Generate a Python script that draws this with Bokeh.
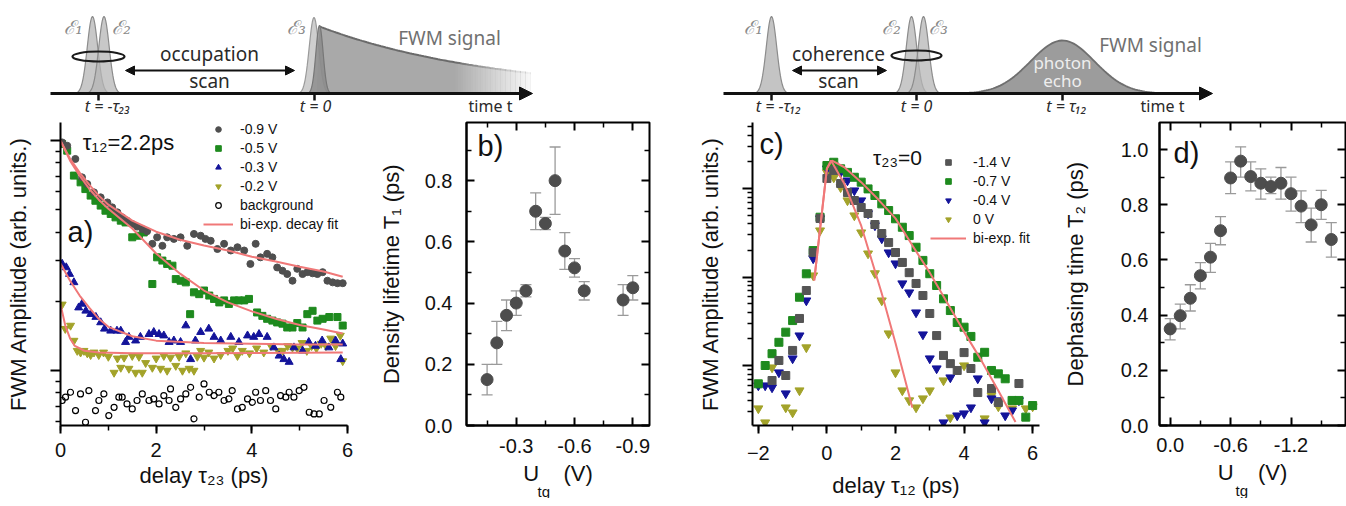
import numpy as np
from bokeh.plotting import figure
from bokeh.layouts import column, row
from bokeh.models import (Range1d, FixedTicker, SingleIntervalTicker, Legend, LegendItem, Label, Title,
                          Whisker, TeeHead, ColumnDataSource, Arrow, NormalHead,
                          NumeralTickFormatter, CustomJSTickFormatter, LinearAxis)
from bokeh.core.properties import value
from bokeh.embed import file_html
from bokeh.resources import INLINE

FONT = "Liberation Sans"
SFONT = "Noto Sans"

# ---------------- panel a data: FWM amplitude vs delay tau23 ----------------
a_grey_x = [0.035,0.14,0.31,0.45,0.56,0.70,0.84,0.98,1.08,1.19,1.29,1.39,1.50,1.60,1.71,1.81,1.92,2.02,2.13,2.23,
            2.37,2.51,2.65,2.79,2.93,3.03,3.14,3.28,3.42,3.56,3.70,3.84,3.97,4.08,4.18,4.32,4.43,4.53,4.64,4.74,
            4.85,4.95,5.06,5.16,5.27,5.37,5.48,5.58,5.69,5.79,5.90]
a_grey_y = [0.983,0.951,0.833,0.693,0.648,0.596,0.567,0.539,0.513,0.488,0.464,0.449,0.434,0.423,0.413,0.404,0.356,
            0.380,0.349,0.380,0.374,0.380,0.349,0.393,0.386,0.374,0.367,0.338,0.356,0.333,0.344,0.333,0.291,0.356,
            0.311,0.322,0.311,0.281,0.272,0.263,0.246,0.277,0.263,0.268,0.265,0.263,0.268,0.246,0.242,0.240,0.240]
a_green_x = [0.035,0.14,0.28,0.42,0.52,0.63,0.73,0.84,0.94,1.05,1.15,1.26,1.36,1.50,1.64,1.74,1.92,2.02,2.13,2.23,
             2.34,2.41,2.51,2.62,2.71,2.79,2.90,3.00,3.11,3.21,3.32,3.42,3.52,3.63,3.73,3.84,3.94,4.11,4.22,4.32,
             4.43,4.53,4.64,4.74,4.85,4.95,5.06,5.16,5.27,5.37,5.48,5.62,5.79,5.90]
a_green_y = [0.967,0.905,0.705,0.659,0.616,0.577,0.548,0.522,0.496,0.480,0.464,0.449,0.441,0.380,0.386,0.399,0.238,
             0.311,0.301,0.291,0.286,0.250,0.246,0.242,0.176,0.219,0.215,0.223,0.212,0.205,0.198,0.202,0.195,0.202,
             0.202,0.202,0.205,0.179,0.173,0.168,0.165,0.162,0.160,0.154,0.154,0.161,0.154,0.176,0.182,0.165,0.168,
             0.171,0.171,0.157]
a_blue_x = [0.035,0.12,0.19,0.28,0.38,0.45,0.53,0.63,0.74,0.84,0.92,1.05,1.18,1.26,1.36,1.43,1.57,1.67,1.85,1.95,
            2.06,2.16,2.27,2.37,2.51,2.62,2.72,2.82,2.93,3.10,3.21,3.35,3.56,3.73,3.91,4.04,4.15,4.32,4.46,4.57,
            4.67,4.78,4.88,5.06,5.19,5.33,5.47,5.61,5.75,5.86,5.90]
a_blue_y = [0.291,0.281,0.263,0.242,0.188,0.195,0.182,0.176,0.171,0.162,0.152,0.149,0.149,0.149,0.133,0.140,0.135,
            0.140,0.144,0.147,0.144,0.142,0.133,0.135,0.133,0.157,0.112,0.135,0.147,0.152,0.140,0.135,0.140,0.133,
            0.142,0.140,0.144,0.140,0.126,0.116,0.112,0.109,0.126,0.122,0.133,0.128,0.135,0.126,0.135,0.112,0.131]
a_olive_x = [0.035,0.10,0.21,0.28,0.35,0.42,0.49,0.56,0.63,0.70,0.80,0.90,1.00,1.12,1.19,1.26,1.33,1.43,1.50,1.57,
             1.64,1.71,1.78,1.92,2.00,2.09,2.16,2.23,2.30,2.41,2.48,2.55,2.62,2.69,2.79,2.86,2.93,3.00,3.10,3.21,
             3.35,3.50,3.60,3.70,3.80,3.95,4.10,4.25,4.40,4.55,4.65,4.75,4.85,4.95,5.05,5.15,5.25,5.35,5.45,5.55,
             5.65,5.75,5.85,5.90]
a_olive_y = [0.194,0.152,0.157,0.135,0.122,0.120,0.122,0.119,0.117,0.120,0.117,0.120,0.115,0.098,0.113,0.103,0.114,
             0.102,0.116,0.098,0.115,0.098,0.108,0.103,0.113,0.102,0.116,0.100,0.114,0.105,0.115,0.100,0.119,0.102,
             0.100,0.115,0.122,0.114,0.120,0.113,0.117,0.122,0.125,0.116,0.122,0.119,0.125,0.120,0.128,0.122,0.122,
             0.128,0.126,0.125,0.132,0.122,0.128,0.125,0.131,0.128,0.138,0.128,0.142,0.110]
a_bg_x = [0.035,0.105,0.209,0.314,0.418,0.523,0.593,0.732,0.802,0.907,1.01,1.12,1.22,1.29,1.39,1.50,1.60,1.71,1.85,
          1.95,2.06,2.16,2.27,2.30,2.41,2.51,2.62,2.72,2.79,2.90,3.00,3.11,3.21,3.31,3.42,3.52,3.59,3.70,3.80,3.91,
          4.01,4.08,4.18,4.29,4.39,4.50,4.60,4.71,4.78,4.88,4.99,5.09,5.20,5.30,5.41,5.51,5.65,5.79,5.86]
a_bg_y = [0.0741,0.0766,0.0805,0.0670,0.0792,0.0596,0.0818,0.0670,0.0741,0.0792,0.0637,0.0692,0.0766,0.0766,0.0716,
          0.0681,0.0741,0.0792,0.0741,0.0753,0.0716,0.0779,0.0741,0.0832,0.0692,0.0753,0.0792,0.0846,0.0617,0.0766,
          0.0875,0.0805,0.0779,0.0805,0.0741,0.0753,0.0818,0.0681,0.0692,0.0753,0.0728,0.0805,0.0741,0.0818,0.0741,
          0.0681,0.0779,0.0766,0.0805,0.0766,0.0818,0.0846,0.0659,0.0648,0.0648,0.0741,0.0692,0.0805,0.0766]
a_fit_x = [0.0,0.2,0.4,0.6,0.8,1.0,1.5,2.0,2.5,3.0,3.5,4.0,4.5,5.0,5.5,5.9]
a_fit_grey = [1.0,0.835,0.726,0.644,0.577,0.527,0.449,0.402,0.371,0.350,0.333,0.313,0.298,0.283,0.270,0.256]
a_fit_green = [1.0,0.819,0.705,0.618,0.554,0.506,0.415,0.323,0.264,0.223,0.198,0.181,0.168,0.158,0.151,0.145]
a_fit_blue_x = [0.0,0.2,0.4,0.6,0.8,1.0,1.5,2.0,3.0,4.0,5.0,5.9]
a_fit_blue = [0.292,0.246,0.212,0.188,0.168,0.155,0.141,0.135,0.132,0.131,0.130,0.130]
a_fit_olive_x = [0.0,0.1,0.2,0.3,0.5,0.8,1.5,3.0,5.9]
a_fit_olive = [0.194,0.157,0.138,0.128,0.122,0.120,0.119,0.119,0.120]
a_labels = ["-0.9 V", "-0.5 V", "-0.3 V", "-0.2 V", "background", "bi-exp. decay fit"]

# ---------------- panel b data: density lifetime T1 ----------------
b_u = [-0.15,-0.20,-0.25,-0.30,-0.35,-0.40,-0.45,-0.50,-0.55,-0.60,-0.65,-0.85,-0.90]
b_t1 = [0.15,0.27,0.36,0.40,0.44,0.70,0.66,0.80,0.57,0.515,0.44,0.41,0.45]
b_lo = [0.10,0.20,0.31,0.36,0.42,0.64,0.64,0.69,0.51,0.485,0.41,0.36,0.41]
b_hi = [0.20,0.34,0.41,0.44,0.46,0.76,0.68,0.91,0.63,0.545,0.47,0.46,0.49]

# ---------------- panel c data: FWM amplitude vs delay tau12 ----------------
c_green_x = [-2.0,-1.8,-1.6,-1.4,-1.2,-1.0,-0.8,-0.6,-0.4,-0.2,0.0,0.2,0.4,0.6,0.8,1.0,1.2,1.4,1.6,1.8,2.0,
             2.2,2.4,2.6,2.8,3.0,3.2,3.4,3.6,3.8,4.0,4.2,4.4,4.6,4.8,5.0,5.2,5.4,5.6,5.8,6.0]
c_green_y = [0.00621,0.0100,0.0136,0.0183,0.0238,0.0322,0.0591,0.1087,0.199,0.474,1.82,1.98,1.67,1.52,1.34,1.18,
             0.99,0.834,0.671,0.564,0.455,0.365,0.294,0.217,0.154,0.109,0.0802,0.0567,0.0418,0.0306,0.0271,0.0213,
             0.0124,0.0141,0.00879,0.00805,0.00708,0.00403,0.00403,0.00261,0.00353]
c_grey_x = [-1.6,-1.4,-1.2,-1.0,-0.8,-0.6,-0.4,-0.2,0.0,0.2,0.4,0.6,0.8,1.0,1.2,1.4,1.6,1.8,2.0,2.2,2.4,2.6,2.8,
            3.0,3.2,3.4,3.6,3.8,4.0,4.2,4.4,4.8,5.0,5.6]
c_grey_y = [0.00677,0.0114,0.00771,0.0148,0.0340,0.0704,0.189,0.458,1.30,1.60,1.14,0.901,0.732,0.610,0.522,0.392,
            0.310,0.245,0.189,0.146,0.112,0.0845,0.0618,0.0387,0.0218,0.0130,0.0105,0.00879,0.0140,0.00925,0.00495,
            0.00550,0.00382,0.00626]
c_blue_x = [-2.0,-1.8,-1.6,-1.4,-1.2,-1.0,-0.8,-0.6,-0.4,-0.2,0.0,0.2,0.4,0.6,0.8,1.0,1.2,1.4,1.6,1.8,2.0,2.2,2.4,
            2.6,2.8,3.0,3.2,3.4,3.6,3.8,4.0,4.2,4.4,4.6,4.8,5.0,5.2,5.4,5.6]
c_blue_y = [0.00594,0.00594,0.00564,0.00834,0.00483,0.0120,0.0218,0.0542,0.162,0.458,1.68,1.82,1.52,1.23,0.949,0.732,
            0.522,0.382,0.272,0.189,0.142,0.0845,0.0668,0.0397,0.0224,0.0120,0.00925,0.00227,0.00732,0.00272,0.00287,
            0.00335,0.00713,0.00227,0.00424,0.00403,0.00272,0.00310,0.00403]
c_olive_x = [-2.0,-1.8,-1.6,-1.2,-1.0,-0.8,-0.6,-0.4,-0.2,0.0,0.2,0.4,0.6,0.8,1.0,1.2,1.4,1.6,1.8,2.0,2.2,2.4,2.6,
             2.8,3.0,3.4,3.6,4.0,4.6,4.8,5.0,5.4,5.8,6.0]
c_olive_y = [0.00327,0.00227,0.00949,0.00335,0.00294,0.00522,0.0160,0.104,0.335,1.52,1.33,1.03,0.732,0.495,0.318,
             0.184,0.110,0.0542,0.0230,0.00834,0.00522,0.00403,0.00335,0.00424,0.00522,0.00677,0.00258,0.0100,
             0.00252,0.00458,0.00344,0.00327,0.00327,0.00344]
c_fit1_x = [-0.37,0.0,0.12,0.5,1.0,1.6,2.0,2.49]
c_fit1_y = [0.0913,1.68,2.07,1.15,0.38,0.065,0.018,0.00335]
c_fit2_x = [-0.37,0.0,0.15,0.5,1.0,1.5,2.0,2.5,3.0,3.5,4.0,4.5,5.0,5.5]
c_fit2_y = [0.0913,1.68,2.07,1.75,1.18,0.75,0.46,0.225,0.112,0.052,0.024,0.0115,0.0052,0.0023]
c_labels = ["-1.4 V", "-0.7 V", "-0.4 V", "0 V", "bi-exp. fit"]

# ---------------- panel d data: dephasing time T2 ----------------
d_u = [0.0,-0.1,-0.2,-0.3,-0.4,-0.5,-0.6,-0.7,-0.8,-0.9,-1.0,-1.1,-1.2,-1.3,-1.4,-1.5,-1.6]
d_t2 = [0.35,0.398,0.461,0.543,0.61,0.706,0.897,0.958,0.902,0.878,0.866,0.878,0.84,0.795,0.727,0.80,0.674]
d_lo = [0.31,0.35,0.415,0.495,0.555,0.655,0.84,0.90,0.85,0.82,0.84,0.82,0.777,0.735,0.665,0.747,0.61]
d_hi = [0.387,0.44,0.51,0.59,0.66,0.757,0.955,1.01,0.955,0.93,0.90,0.935,0.90,0.85,0.788,0.852,0.735]

GREY, GREEN, BLUE, OLIVE, FIT = "#4f4f4f", "#1e8a1e", "#14149a", "#a3a32a", "#f07878"
EMPTY = CustomJSTickFormatter(code="return ''")
NB = "\u00a0"


def style(ax, t_in, t_out, m_in, m_out, lab="20px", standoff=10, al_standoff=10):
    ax.axis_line_width = 2
    ax.axis_line_color = "black"
    ax.major_tick_line_width = 2
    ax.minor_tick_line_width = 1.5
    ax.major_tick_in, ax.major_tick_out = t_in, t_out
    ax.minor_tick_in, ax.minor_tick_out = m_in, m_out
    ax.major_label_text_font = FONT
    ax.major_label_text_font_size = lab
    ax.major_label_text_color = "#111111"
    ax.major_label_standoff = standoff
    ax.axis_label_text_font = FONT
    ax.axis_label_text_font_size = "22px"
    ax.axis_label_text_font_style = "normal"
    ax.axis_label_text_color = "#111111"
    ax.axis_label_standoff = al_standoff


def base(fw, xr, yr, left, right, ylog=False):
    p = figure(frame_width=fw, frame_height=303, x_range=xr, y_range=yr,
               y_axis_type="log" if ylog else "linear",
               min_border_left=left, min_border_right=right, min_border_top=6, min_border_bottom=73,
               output_backend="svg", toolbar_location=None)
    p.grid.visible = False
    p.outline_line_color = None
    return p


def lab(p, x, y, text, size):
    p.add_layout(Label(x=x, y=y, x_units="screen", y_units="screen", text=text,
                       text_font=FONT, text_font_size=size, text_align="center",
                       text_baseline="middle", text_color="#111111"))


def mirror(p, xt, yt):
    for ticker, place in ((xt, "above"), (yt, "right")):
        ax = LinearAxis(ticker=ticker, formatter=EMPTY)
        style(ax, 8, 0, 5, 0, lab="0px", standoff=0, al_standoff=0)
        ax.axis_line_color = None
        p.add_layout(ax, place)


def legend(p, items, loc, gw, size, spacing):
    lg = Legend(items=[LegendItem(label=t, renderers=[r]) for t, r in items], location=loc,
                glyph_width=gw, glyph_height=14, label_height=14, spacing=spacing, padding=0, margin=0,
                label_standoff=7, border_line_color=None, background_fill_alpha=0,
                label_text_font=FONT, label_text_font_size=size, label_text_color="#111111")
    p.add_layout(lg)


def utg_label(p, bottom_axis, offset):
    bottom_axis.axis_label = "U" + NB * 4 + "(V)"
    p.add_layout(Title(text="tg", align="left", offset=offset, standoff=-16, text_font=FONT,
                       text_font_size="15px", text_font_style="normal", text_color="#111111"), "below")

# ---------------- panel a ----------------
pa = base(287, Range1d(0, 6), Range1d(0.0577, 1.2), 60, 28, ylog=True)
rbg = pa.scatter(a_bg_x, a_bg_y, marker="circle", size=6, fill_color=None, line_color="black", line_width=1.2)
rol = pa.scatter(a_olive_x, a_olive_y, marker="inverted_triangle", size=8, color=OLIVE)
rbl = pa.scatter(a_blue_x, a_blue_y, marker="triangle", size=8, color=BLUE)
rgr = pa.scatter(a_green_x, a_green_y, marker="square", size=7, color=GREEN)
rgy = pa.scatter(a_grey_x, a_grey_y, marker="circle", size=7, color=GREY)
rf = pa.line(a_fit_x, a_fit_grey, line_color=FIT, line_width=2)
pa.line(a_fit_x, a_fit_green, line_color=FIT, line_width=2)
pa.line(a_fit_blue_x, a_fit_blue, line_color=FIT, line_width=2)
pa.line(a_fit_olive_x, a_fit_olive, line_color=FIT, line_width=2)
pa.xaxis.ticker = SingleIntervalTicker(interval=2, num_minor_ticks=2)
pa.yaxis.ticker = FixedTicker(ticks=[0.1, 1.0], minor_ticks=[0.06, 0.07, 0.08, 0.09, 0.2, 0.3, 0.4, 0.5, 0.6, 0.7, 0.8, 0.9])
pa.yaxis.formatter = EMPTY
style(pa.xaxis[0], 0, 8, 0, 5, standoff=9, al_standoff=3)
style(pa.yaxis[0], 0, 10, 0, 5, lab="0px", standoff=0, al_standoff=20)
pa.xaxis.axis_label = "delay τ₂₃ (ps)"
pa.yaxis.axis_label = "FWM Amplitude (arb. units.)"
legend(pa, list(zip(a_labels, [rgy, rgr, rbl, rol, rbg, rf])), (143, 193), 30, "14px", 3)
lab(pa, 68, 283, "τ₁₂=2.2ps", "22px")
lab(pa, 20, 194, "a)", "29px")

# ---------------- panel b ----------------
pb = base(183, Range1d(-0.044, -0.986), Range1d(0, 0.99), 87, 45)
pb.outline_line_color = "black"
pb.outline_line_width = 2
src_b = ColumnDataSource(dict(x=b_u, y=b_t1, lo=b_lo, hi=b_hi))
pb.add_layout(Whisker(source=src_b, base="x", upper="hi", lower="lo", line_color="#9a9a9a", line_width=1.3,
                      upper_head=TeeHead(size=11, line_color="#9a9a9a", line_width=1.3),
                      lower_head=TeeHead(size=11, line_color="#9a9a9a", line_width=1.3)))
pb.scatter("x", "y", source=src_b, marker="circle", size=12, color="#4d4d4d")
bxt = FixedTicker(ticks=[-0.3, -0.6, -0.9], minor_ticks=[-0.15, -0.45, -0.75])
byt = FixedTicker(ticks=[0.0, 0.2, 0.4, 0.6, 0.8], minor_ticks=[0.1, 0.3, 0.5, 0.7, 0.9])
pb.xaxis.ticker = bxt
pb.yaxis.ticker = byt
pb.xaxis.formatter = NumeralTickFormatter(format="0.0")
pb.yaxis.formatter = NumeralTickFormatter(format="0.0")
pb_x = pb.xaxis[0]
style(pb_x, 8, 0, 5, 0, standoff=13, al_standoff=5)
style(pb.yaxis[0], 8, 0, 5, 0, standoff=14, al_standoff=18)
pb.yaxis.axis_label = "Density lifetime T₁ (ps)"
mirror(pb, bxt, byt)
utg_label(pb, pb_x, 71)
lab(pb, 24, 280, "b)", "29px")

# ---------------- panel c ----------------
pc = base(287, Range1d(-2.17, 6.2), Range1d(0.0021, 5.57), 58, 20, ylog=True)
rco = pc.scatter(c_olive_x, c_olive_y, marker="inverted_triangle", size=9, color=OLIVE)
rcb = pc.scatter(c_blue_x, c_blue_y, marker="inverted_triangle", size=9, color=BLUE)
rcg = pc.scatter(c_green_x, c_green_y, marker="square", size=8, color=GREEN)
rcy = pc.scatter(c_grey_x, c_grey_y, marker="square", size=8, color="#555555")
rcf = pc.line(c_fit1_x, c_fit1_y, line_color=FIT, line_width=2)
pc.line(c_fit2_x, c_fit2_y, line_color=FIT, line_width=2)
pc.xaxis.ticker = SingleIntervalTicker(interval=2, num_minor_ticks=2)
pc.yaxis.ticker = FixedTicker(ticks=[0.01, 0.1, 1.0],
                              minor_ticks=[0.003, 0.004, 0.005, 0.006, 0.007, 0.008, 0.009,
                                           0.02, 0.03, 0.04, 0.05, 0.06, 0.07, 0.08, 0.09,
                                           0.2, 0.3, 0.4, 0.5, 0.6, 0.7, 0.8, 0.9, 2, 3, 4, 5])
pc.yaxis.formatter = EMPTY
style(pc.xaxis[0], 0, 8, 0, 5, standoff=12, al_standoff=10)
style(pc.yaxis[0], 0, 10, 0, 5, lab="0px", standoff=0, al_standoff=20)
pc.xaxis.axis_label = "delay τ₁₂ (ps)"
pc.yaxis.axis_label = "FWM Amplitude (arb. units.)"
legend(pc, list(zip(c_labels, [rcy, rcg, rcb, rco, rcf])), (178, 179), 36, "14px", 3)
lab(pc, 19, 282, "c)", "29px")
lab(pc, 145, 268, "τ₂₃=0", "21px")

# ---------------- panel d ----------------
pdd = base(186, Range1d(0.106, -1.741), Range1d(0, 1.098), 96, 1)
pdd.outline_line_color = "black"
pdd.outline_line_width = 2
src_d = ColumnDataSource(dict(x=d_u, y=d_t2, lo=d_lo, hi=d_hi))
pdd.add_layout(Whisker(source=src_d, base="x", upper="hi", lower="lo", line_color="#9a9a9a", line_width=1.3,
                       upper_head=TeeHead(size=11, line_color="#9a9a9a", line_width=1.3),
                       lower_head=TeeHead(size=11, line_color="#9a9a9a", line_width=1.3)))
pdd.scatter("x", "y", source=src_d, marker="circle", size=12, color="#4d4d4d")
dxt = FixedTicker(ticks=[0.0, -0.6, -1.2], minor_ticks=[-0.3, -0.9, -1.5])
dyt = FixedTicker(ticks=[0.0, 0.2, 0.4, 0.6, 0.8, 1.0], minor_ticks=[0.1, 0.3, 0.5, 0.7, 0.9])
pdd.xaxis.ticker = dxt
pdd.yaxis.ticker = dyt
pdd.xaxis.formatter = NumeralTickFormatter(format="0.0")
pdd.yaxis.formatter = NumeralTickFormatter(format="0.0")
pd_x = pdd.xaxis[0]
style(pd_x, 8, 0, 5, 0, standoff=12, al_standoff=5)
style(pdd.yaxis[0], 8, 0, 5, 0, standoff=11, al_standoff=30)
pdd.yaxis.axis_label = "Dephasing time T₂ (ps)"
mirror(pdd, dxt, dyt)
utg_label(pdd, pd_x, 76)
lab(pdd, 27, 273, "d)", "29px")

# ---------------- schematic (top) ----------------
AX_Y = 93
top = figure(width=1338, height=116, x_range=Range1d(0, 1338), y_range=Range1d(116, 0),
             output_backend="svg", toolbar_location=None, min_border=0,
             x_axis_location=None, y_axis_location=None)
top.grid.visible = False
top.outline_line_color = None


def pulse(c, h, s, fill, alpha, line):
    xs = np.linspace(c - 4 * s, c + 4 * s, 60)
    ys = AX_Y - h * np.exp(-0.5 * ((xs - c) / s) ** 2)
    top.patch(list(xs), list(ys), fill_color=fill, fill_alpha=alpha, line_color=line, line_width=1.2)


# left: FWM decay signal
xd = np.linspace(319, 530, 90)
yd = AX_Y - 67 * np.exp(-(xd - 319) / 177.0)
top.patch([316] + list(xd) + [530], [AX_Y] + list(yd) + [AX_Y], fill_color="#a9a9a9", line_color=None)
top.line(list(xd), list(yd), line_color="#6a6a6a", line_width=2)
fx = np.linspace(455, 535, 33)
top.quad(left=fx[:-1], right=fx[1:], top=[10] * 32, bottom=[AX_Y - 1] * 32, fill_color="white",
         fill_alpha=list(np.linspace(0.03, 0.97, 32)), line_color=None)
pulse(92, 77, 5.2, "#b5b5b5", 0.75, "#8c8c8c")
pulse(103.5, 77, 5.2, "#b5b5b5", 0.75, "#8c8c8c")
pulse(313.5, 76, 4.8, "#c2c2c2", 0.8, "#9a9a9a")
pulse(319, 68, 3.6, "#8a8a8a", 0.8, "#777777")
# right: photon echo
pulse(771, 77, 5.2, "#b5b5b5", 0.8, "#8c8c8c")
pulse(911, 77, 5.2, "#b5b5b5", 0.75, "#8c8c8c")
pulse(923, 77, 5.2, "#b5b5b5", 0.75, "#8c8c8c")
xe = np.linspace(945, 1180, 100)
ye = AX_Y - 53 * np.exp(-0.5 * ((xe - 1062) / 32.0) ** 2)
top.patch(list(xe), list(ye), fill_color="#9c9c9c", line_color="#6f6f6f", line_width=1.8)

for x0, x1 in ((50, 532), (723, 1212)):
    top.add_layout(Arrow(end=NormalHead(size=13, fill_color="#111111", line_color="#111111"),
                         x_start=x0, y_start=AX_Y, x_end=x1, y_end=AX_Y,
                         line_width=3, line_color="#111111"))
for x0, x1 in ((125, 294), (792, 886)):
    top.add_layout(Arrow(start=NormalHead(size=9, fill_color="#111111", line_color="#111111"),
                         end=NormalHead(size=9, fill_color="#111111", line_color="#111111"),
                         x_start=x0, y_start=70, x_end=x1, y_end=70, line_width=2, line_color="#111111"))
top.ellipse(x=[98, 916], y=[56, 55], width=[52, 50], height=[10, 10], fill_color=None,
            line_color="#1a1a1a", line_width=2.2)
tick_x = [98, 314, 771, 916, 1062]
top.segment(x0=tick_x, y0=[AX_Y] * 5, x1=tick_x, y1=[AX_Y + 7] * 5, line_width=2.5, line_color="#111111")

top.text(x=[73, 121, 296, 753, 891, 938], y=[26] * 6, text=["ℰ₁", "ℰ₂", "ℰ₃", "ℰ₁", "ℰ₂", "ℰ₃"],
         text_font=value("DejaVu Serif"), text_font_size="19px", text_color="#8a8a8a",
         text_align="center", text_baseline="middle", text_font_style="italic")
top.text(x=[209, 209, 838, 838], y=[53, 80, 53, 80], text=["occupation", "scan", "coherence", "scan"],
         text_font=value(SFONT), text_font_size="19px", text_color="#2a2a2a",
         text_align="center", text_baseline="middle")
top.text(x=[449, 1150], y=[37, 44], text=["FWM signal", "FWM signal"],
         text_font=value(SFONT), text_font_size="19px", text_color="#707070",
         text_align="center", text_baseline="middle")
top.text(x=[1062, 1062], y=[62, 80], text=["photon", "echo"],
         text_font=value(SFONT), text_font_size="17px", text_color="#eeeeee",
         text_align="center", text_baseline="middle")
top.text(x=[107, 315, 778, 916, 1066], y=[105] * 5,
         text=["t = −τ₂₃", "t = 0", "t = −τ₁₂", "t = 0", "t = τ₁₂"],
         text_font=value(SFONT), text_font_size="16px", text_color="#2a2a2a", text_font_style="italic",
         text_align="center", text_baseline="middle")
top.text(x=[490, 1162], y=[105, 105], text=["time t", "time t"],
         text_font=value(SFONT), text_font_size="16px", text_color="#2a2a2a",
         text_align="center", text_baseline="middle")

layout = column(top, row(pa, pb, pc, pdd, spacing=0), spacing=0)
open("out.html", "w").write(file_html(layout, INLINE))
